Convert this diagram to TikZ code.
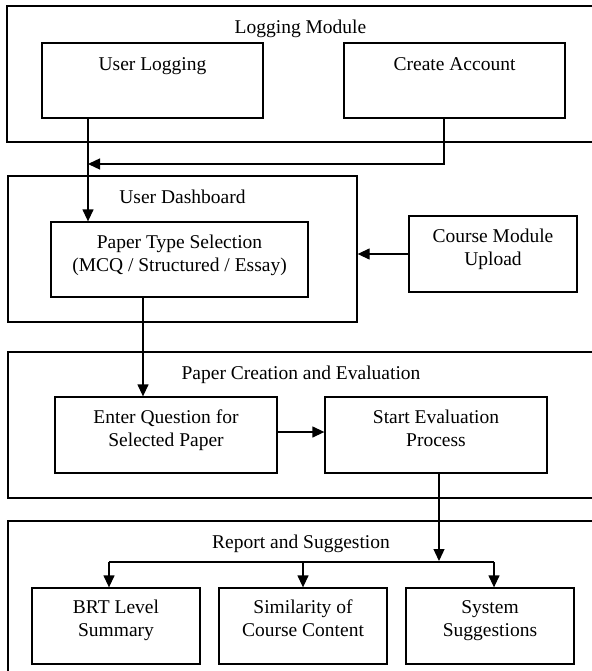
\documentclass[tikz,border=0pt]{standalone}
\usepackage{fontspec}
\setmainfont{Liberation Serif}
\usetikzlibrary{arrows.meta}
\begin{document}
\begin{tikzpicture}[x=1pt,y=-1pt,
  box/.style={draw, line width=1.3pt, rectangle, inner sep=0pt},
  lbl/.style={font=\fontsize{19.5}{23}\selectfont, align=center, inner sep=0pt, anchor=north},
  arr/.style={line width=1.3pt, -{Triangle[length=12pt,width=11pt]}},
  wire/.style={line width=1.3pt}]
\useasboundingbox (0,0) rectangle (591,671);

% module frames (right and bottom sides run off the page)
\node[box, minimum width=587pt, minimum height=136pt] (lm)  at (300.5,74) {};
\node[box, minimum width=349pt, minimum height=146pt] (ud)  at (182.5,249) {};
\node[box, minimum width=586pt, minimum height=146pt] (pce) at (301,425) {};
\node[box, minimum width=586pt, minimum height=179pt] (rs)  at (301,610.5) {};

% module titles
\node[lbl] at ([yshift=-11.5pt]lm.north)  {\strut Logging Module};
\node[lbl] at ([yshift=-11.5pt]ud.north)  {\strut User Dashboard};
\node[lbl] at ([yshift=-11.5pt]pce.north) {\strut Paper Creation and Evaluation};
\node[lbl] at ([yshift=-11.5pt]rs.north)  {\strut Report and Suggestion};

% process boxes
\node[box, minimum width=221pt, minimum height=75pt] (ul)  at (152.5,80.5) {};
\node[box, minimum width=221pt, minimum height=75pt] (ca)  at (454.5,80.5) {};
\node[box, minimum width=257pt, minimum height=75pt] (pt)  at (179.5,259.5) {};
\node[box, minimum width=168pt, minimum height=76pt] (cmu) at (493,254) {};
\node[box, minimum width=222pt, minimum height=76pt] (eq)  at (166,435) {};
\node[box, minimum width=222pt, minimum height=76pt] (se)  at (436,435) {};
\node[box, minimum width=168pt, minimum height=76pt] (brt) at (116,626) {};
\node[box, minimum width=168pt, minimum height=76pt] (sim) at (303,626) {};
\node[box, minimum width=168pt, minimum height=76pt] (sys) at (490,626) {};

% box texts, set at the top of each box
\node[lbl] at ([yshift=-11.5pt]ul.north)  {\strut User Logging};
\node[lbl] at ([yshift=-11.5pt]ca.north)  {\strut Create Account};
\node[lbl] at ([yshift=-10.5pt]pt.north)  {\strut Paper Type Selection\\(MCQ / Structured / Essay)};
\node[lbl] at ([yshift=-10.5pt]cmu.north) {\strut Course Module\\Upload};
\node[lbl] at ([yshift=-10.5pt]eq.north)  {\strut Enter Question for\\Selected Paper};
\node[lbl] at ([yshift=-10.5pt]se.north)  {\strut Start Evaluation\\Process};
\node[lbl] at ([yshift=-10pt]brt.north) {\strut BRT Level\\Summary};
\node[lbl] at ([yshift=-10pt]sim.north) {\strut Similarity of\\Course Content};
\node[lbl] at ([yshift=-10pt]sys.north) {\strut System\\Suggestions};

% connectors
\coordinate (j1) at (88,164);
\draw[arr] (ul.south -| j1) -- (j1 |- pt.north);
\draw[arr] ([xshift=-10.5pt]ca.south) |- (j1);
\draw[arr] (cmu.west) -- (cmu.west -| ud.east);
\coordinate (j2) at (143,300);
\draw[arr] (pt.south -| j2) -- (eq.north -| j2);
\draw[arr] ([yshift=3pt]eq.east) -- ([yshift=3pt]se.west);
\coordinate (j3) at (439,561);
\draw[arr] (se.south -| j3) -- (j3);
\coordinate (bl) at (109,562);
\coordinate (bri) at (494,562);
\draw[wire] (bl) -- (bri);
\draw[arr] (bl) -- (bl |- brt.north);
\draw[arr] (sim.north |- bl) -- (sim.north);
\draw[arr] (bri) -- (bri |- sys.north);
\end{tikzpicture}
\end{document}
